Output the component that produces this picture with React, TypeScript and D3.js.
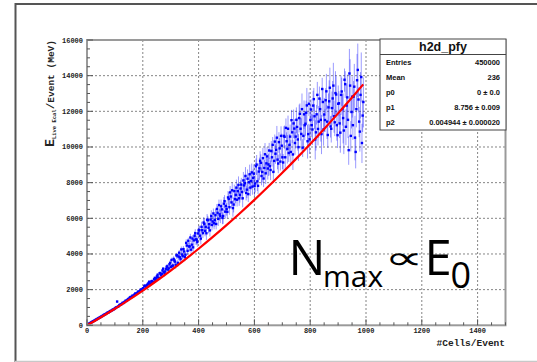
import React from 'react';
import * as d3 from 'd3';

// ---- data: profile of E(Live Ecal) vs #Cells, two interleaved bin sets ----
const BIN_START = 3;
const BIN_START_2 = 5.5;
const BIN_WIDTH = 5;
const ENERGY = [
  27, 70, 120, 165, 210, 255, 300, 345, 392, 436,
  490, 528, 585, 620, 680, 712, 770, 805, 860, 898,
  960, 1310, 1045, 1130, 1160, 1240, 1265, 1350, 1375, 1450,
  1520, 1540, 1640, 1650, 1760, 1760, 1870, 1880, 1990, 1985,
  2020, 2205, 2110, 2295, 2420, 2310, 2460, 2400, 2635, 2615,
  2810, 2620, 2890, 2860, 3150, 2880, 3130, 3280, 3170, 3480,
  3640, 3330, 3620, 3370, 3900, 3830, 3790, 4230, 3860, 4120,
  3940, 4450, 4720, 4400, 4220, 4840, 4740, 5140, 4770, 5130,
  5320, 4840, 5310, 5740, 5270, 5140, 5870, 5650, 5910, 5610,
  6250, 5880, 5660, 6290, 6720, 6100, 6480, 6110, 6940, 6670,
  6340, 7060, 7430, 6870, 6550, 7500, 7290, 7020, 7850, 7290,
  7870, 7100, 7825, 8355, 7585, 7335, 8450, 8070, 7755, 8480,
  7930, 8990, 7800, 8780, 9090, 8580, 8210, 9570, 9060, 8770,
  9780, 8690, 9400, 8580, 10280, 9820, 9270, 10250, 9160, 10050,
  9110, 10550, 11050, 9870, 9640, 10560, 11480, 9560, 11010, 10560,
  11100, 9970, 11840, 10710, 9940, 11810, 11280, 12310, 10700, 10410,
  12080, 10960, 12660, 10400, 11810, 10990, 12690, 11500, 13230, 10970,
  11490, 13100, 10650, 12540, 11130, 12160, 13420, 11360, 12920, 10640,
  12430, 10780, 13090, 11600, 13750, 11110, 12760, 9800, 13420, 11940,
  11200, 13360, 9700, 13720, 12640, 10840, 13900, 11740,
];
const ERRORS = [
  10, 12, 10, 14, 12, 15, 13, 16, 14, 18,
  18, 20, 16, 22, 20, 24, 22, 26, 24, 25,
  28, 60, 30, 35, 32, 38, 36, 40, 38, 45,
  40, 48, 45, 55, 50, 60, 52, 58, 62, 65,
  70, 60, 85, 75, 90, 80, 95, 85, 100, 90,
  110, 90, 130, 100, 120, 140, 110, 150, 120, 160,
  150, 180, 140, 200, 170, 160, 210, 190, 180, 220,
  200, 240, 190, 260, 230, 210, 280, 250, 240, 300,
  260, 300, 240, 320, 280, 350, 270, 310, 360, 290,
  300, 350, 280, 400, 330, 370, 310, 420, 360, 340,
  350, 420, 380, 300, 460, 390, 440, 360, 500, 410,
  400, 480, 380, 520, 450, 420, 560, 470, 430, 540,
  480, 560, 440, 620, 500, 580, 460, 650, 540, 600,
  450, 550, 500, 600, 420, 650, 520, 580, 480, 700,
  500, 650, 550, 800, 480, 700, 600, 850, 550, 650,
  550, 750, 600, 900, 500, 800, 650, 1000, 600, 800,
  600, 850, 650, 1100, 550, 900, 700, 1200, 650, 900,
  650, 1000, 700, 1200, 600, 950, 1300, 750, 1050, 700,
  700, 1100, 800, 1400, 650, 1000, 1300, 800, 1500, 900,
  800, 1300, 900, 1500, 700, 1100, 1400, 900,
];
const ENERGY_2 = [
  50, 95, 140, 190, 230, 280, 325, 370, 415, 460,
  505, 560, 600, 650, 695, 745, 785, 835, 875, 930,
  990, 1020, 1095, 1135, 1200, 1230, 1300, 1345, 1415, 1470,
  1560, 1590, 1615, 1710, 1740, 1800, 1825, 1920, 1925, 2060,
  2180, 2110, 2240, 2350, 2260, 2430, 2390, 2560, 2520, 2720,
  2660, 2900, 2780, 3050, 2960, 3000, 3260, 3100, 3400, 3250,
  3300, 3700, 3550, 3900, 3480, 4050, 3690, 3950, 4250, 3800,
  4600, 4150, 4400, 4900, 4500, 4350, 5000, 4800, 4650, 5300,
  5000, 5500, 5150, 5650, 5500, 5900, 5450, 5300, 6100, 5800,
  5700, 6150, 6500, 5950, 6200, 6650, 6000, 6800, 6350, 6500,
  7150, 6600, 7200, 7550, 6750, 7050, 7700, 7500, 7100, 7650,
  7450, 8100, 7950, 7400, 8200, 8000, 7700, 8550, 8250, 7800,
  8900, 8050, 8600, 9200, 8350, 9350, 8800, 8500, 9450, 9000,
  8900, 9750, 10100, 9200, 9600, 10500, 9050, 9900, 10600, 9400,
  10600, 9400, 10300, 11000, 10100, 9700, 10800, 11300, 10200, 11500,
  10400, 11600, 11000, 12100, 10600, 11200, 11900, 10300, 12400, 11500,
  11200, 12300, 11700, 10800, 12900, 11400, 12100, 10700, 12500, 11800,
  12600, 11400, 12200, 13300, 11000, 12700, 11700, 13000, 11200, 12400,
  11300, 12900, 12100, 10900, 13500, 12300, 11500, 14100, 10600, 12800,
  12800, 10500, 12100, 14300, 11400, 12900, 10200, 12500,
];
const ERRORS_2 = [
  11, 12, 13, 12, 14, 15, 14, 16, 17, 18,
  19, 20, 21, 20, 22, 23, 24, 22, 25, 26,
  30, 32, 30, 36, 34, 38, 40, 37, 42, 44,
  45, 50, 48, 55, 52, 58, 60, 56, 62, 66,
  65, 80, 70, 90, 85, 78, 95, 88, 100, 95,
  100, 120, 110, 135, 125, 115, 145, 130, 140, 155,
  160, 170, 190, 150, 200, 175, 185, 210, 195, 205,
  220, 200, 250, 230, 270, 240, 260, 290, 250, 280,
  280, 310, 260, 330, 300, 340, 290, 320, 350, 310,
  320, 360, 300, 380, 340, 400, 330, 390, 370, 350,
  380, 400, 360, 450, 420, 380, 470, 430, 400, 480,
  420, 500, 460, 400, 540, 480, 450, 520, 490, 560,
  450, 520, 480, 560, 500, 600, 470, 580, 540, 620,
  500, 580, 460, 620, 540, 680, 520, 600, 560, 640,
  560, 700, 520, 760, 620, 680, 580, 800, 640, 720,
  600, 780, 640, 900, 680, 820, 700, 950, 660, 860,
  650, 850, 700, 1000, 750, 900, 680, 1100, 800, 950,
  700, 950, 800, 1150, 750, 1000, 900, 1250, 850, 1050,
  800, 1100, 900, 1300, 750, 1200, 1000, 1400, 850, 1150,
  900, 1250, 1000, 1500, 850, 1300, 1100, 1400,
];
const CELLS = ENERGY.map((_, i) => BIN_START + BIN_WIDTH * i);
const CELLS_2 = ENERGY_2.map((_, i) => BIN_START_2 + BIN_WIDTH * i);

const FIT_CELLS = [0, 50, 100, 150, 200, 250, 300, 350, 400, 450, 500, 550, 600, 650, 700, 750, 800, 850, 900, 950, 990];
const FIT_ENERGY = [0, 450, 925, 1425, 1949, 2498, 3072, 3671, 4293, 4941, 5614, 6312, 7034, 7780, 8552, 9348, 10169, 11015, 11885, 12780, 13513];

const X_TICKS = [0, 200, 400, 600, 800, 1000, 1200, 1400];
const Y_TICKS = [0, 2000, 4000, 6000, 8000, 10000, 12000, 14000, 16000];
const X_MINOR = d3.range(0, 1501, 50);
const Y_MINOR = d3.range(0, 16001, 500);

const STAT_TITLE = 'h2d_pfy';
const STAT_LABELS = ['Entries', 'Mean', 'p0', 'p1', 'p2'];
const STAT_VALUES = ['450000', '236', '0 \u00b1 0.0', '8.756 \u00b1 0.009', '0.004944 \u00b1 0.000020'];

const W = 537;
const H = 362;
const L = 87, R = 505.5, T = 40, B = 325.3;
const MONO = '"Liberation Mono", "DejaVu Sans Mono", monospace';
const SANS = '"Liberation Sans", Arial, sans-serif';

export default function App() {
  const x = d3.scaleLinear().domain([0, 1500]).range([L, R]);
  const y = d3.scaleLinear().domain([0, 16000]).range([B, T]);
  const fitLine = d3
    .line<number>()
    .x((_, i) => x(FIT_CELLS[i]))
    .y((d) => y(d))
    .curve(d3.curveNatural);

  const points = [
    ...ENERGY.map((v, i) => ({ c: CELLS[i], v, e: ERRORS[i] })),
    ...ENERGY_2.map((v, i) => ({ c: CELLS_2[i], v, e: ERRORS_2[i] })),
  ];

  return (
    <svg
      width={W}
      height={H}
      style={{ position: 'absolute', left: 0, top: 0, background: '#fff' }}
    >
      <rect x={0} y={0} width={W} height={H} fill="#fff" />
      {/* outer slide frame */}
      <line x1={15} y1={4} x2={W} y2={4} stroke="#555" strokeWidth={2} />
      <line x1={15.5} y1={3} x2={15.5} y2={H} stroke="#555" strokeWidth={2} />
      <line x1={15} y1={361.5} x2={W} y2={361.5} stroke="#c8c8c8" strokeWidth={1.5} />

      {/* grid */}
      <g stroke="#666" strokeWidth={0.8} strokeDasharray="2 2" fill="none">
        {X_TICKS.filter((t) => t > 0).map((t) => (
          <line key={'gx' + t} x1={x(t)} x2={x(t)} y1={T} y2={B} />
        ))}
        {Y_TICKS.filter((t) => t > 0 && t < 16000).map((t) => (
          <line key={'gy' + t} x1={L} x2={R} y1={y(t)} y2={y(t)} />
        ))}
      </g>

      {/* error bars */}
      <g stroke="#0000ff" strokeOpacity={0.4} strokeWidth={1}>
        {points.map((p, i) => (
          <line key={'e' + i} x1={x(p.c)} x2={x(p.c)} y1={y(p.v - p.e)} y2={y(p.v + p.e)} />
        ))}
      </g>
      {/* markers */}
      <g fill="#0000ff">
        {points.map((p, i) => (
          <rect key={'m' + i} x={x(p.c) - 1.2} y={y(p.v) - 1.6} width={2.4} height={2.4} />
        ))}
      </g>

      {/* fit */}
      <path d={fitLine(FIT_ENERGY) || ''} fill="none" stroke="#ff0000" strokeWidth={2.2} />

      {/* frame */}
      <rect x={L} y={T} width={R - L} height={B - T} fill="none" stroke="#9a9a9a" strokeWidth={2} />

      {/* ticks */}
      <g stroke="#555" strokeWidth={1}>
        {X_MINOR.map((t) => (
          <line key={'xt' + t} x1={x(t)} x2={x(t)} y1={B} y2={B - (t % 200 === 0 ? 6 : 3)} />
        ))}
        {Y_MINOR.map((t) => (
          <line key={'yt' + t} x1={L} x2={L + (t % 2000 === 0 ? 6 : 3)} y1={y(t)} y2={y(t)} />
        ))}
      </g>

      {/* tick labels */}
      <g fontFamily={MONO} fontWeight="bold" fontSize={7} fill="#222">
        {X_TICKS.map((t) => (
          <text key={'xl' + t} x={x(t)} y={333} textAnchor="middle">{t}</text>
        ))}
        {Y_TICKS.map((t) => (
          <text key={'yl' + t} x={83} y={y(t) + 2.5} textAnchor="end">{t}</text>
        ))}
      </g>

      {/* axis titles */}
      <text x={505} y={346} textAnchor="end" fontFamily={MONO} fontWeight="bold" fontSize={9.5} fill="#222">
        #Cells/Event
      </text>
      <text
        transform={`translate(54,40) rotate(-90)`}
        textAnchor="end"
        fontFamily={MONO}
        fontWeight="bold"
        fill="#222"
        fontSize={9.5}
      >
        <tspan fontSize={13}>E</tspan>
        <tspan fontSize={5.5} dy={2}>Live Ecal</tspan>
        <tspan fontSize={11} dy={-2}>/</tspan>
        <tspan fontSize={9.5}>Event (MeV)</tspan>
      </text>

      {/* stats box */}
      <g>
        <rect x={380} y={39} width={126} height={91} fill="#fff" stroke="#444" strokeWidth={1} />
        <line x1={380} x2={506} y1={54.5} y2={54.5} stroke="#444" strokeWidth={1} />
        <text x={443} y={51} textAnchor="middle" fontFamily={SANS} fontWeight="bold" fontSize={12.5} fill="#111">
          {STAT_TITLE}
        </text>
        {STAT_LABELS.map((lab, i) => (
          <g key={lab} fontFamily={SANS} fontWeight="bold" fontSize={7.5} fill="#111">
            <text x={386} y={64.5 + i * 15}>{lab}</text>
            <text x={500} y={64.5 + i * 15} textAnchor="end">{STAT_VALUES[i]}</text>
          </g>
        ))}
      </g>

      {/* annotation */}
      <g fill="#000" fontFamily={'"Open Sans", "Noto Sans", sans-serif'}>
        <text x={288.5} y={275} fontSize={49}>N</text>
        <text x={323} y={287} fontSize={30}>max</text>
        <text
          transform="translate(387,269) scale(1.7,1)"
          x={-1.5}
          y={0}
          fontSize={32}
          fontFamily={'"DejaVu Sans", sans-serif'}
        >
          {'\u221d'}
        </text>
        <text x={424.5} y={275} fontSize={49}>E</text>
        <text x={450.5} y={288} fontSize={36}>0</text>
      </g>
    </svg>
  );
}
